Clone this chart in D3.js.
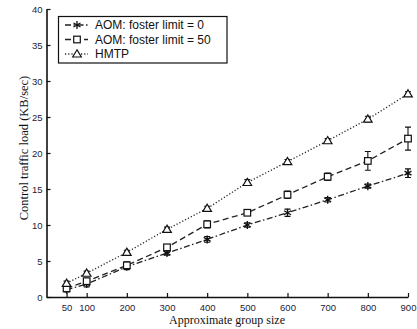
<!DOCTYPE html>
<html><head><meta charset="utf-8">
<script src="https://cdn.jsdelivr.net/npm/d3@7"></script>
<style>body{margin:0;background:#fff}svg{display:block}</style>
</head><body>
<svg id="c" width="417" height="329"></svg>
<script>
const sizes = [50, 100, 200, 300, 400, 500, 600, 700, 800, 900];
const aom0 = [1.0, 1.8, 4.2, 6.1, 8.0, 10.0, 11.7, 13.5, 15.4, 17.2];
const aom0Err = [0.3, 0.4, 0.4, 0.3, 0.4, 0.3, 0.5, 0.3, 0.3, 0.6];
const aom50 = [1.2, 2.2, 4.4, 6.9, 10.1, 11.7, 14.2, 16.7, 18.9, 22.0];
const aom50Err = [0.4, 0.4, 0.5, 0.3, 0.5, 0.3, 0.5, 0.5, 1.3, 1.6];
const hmtp = [1.9, 3.3, 6.2, 9.4, 12.3, 15.9, 18.8, 21.7, 24.7, 28.2];
const hmtpErr = [0.3, 0.3, 0.3, 0.3, 0.3, 0.4, 0.3, 0.3, 0.4, 0.3];
const xTicks = [50, 100, 200, 300, 400, 500, 600, 700, 800, 900];
const yTicks = [0, 5, 10, 15, 20, 25, 30, 35, 40];
const seriesNames = ["AOM: foster limit = 0", "AOM: foster limit = 50", "HMTP"];

const svg = d3.select("#c");
const x = d3.scaleLinear().domain([0, 900]).range([46.5, 408]);
const y = d3.scaleLinear().domain([0, 40]).range([297, 9]);

const series = [
  {name: seriesNames[0], vals: aom0, err: aom0Err, dash: "6,2.5,1.5,2.5", sym: "star"},
  {name: seriesNames[1], vals: aom50, err: aom50Err, dash: "6,3.5", sym: "square"},
  {name: seriesNames[2], vals: hmtp, err: hmtpErr, dash: "1.2,2", sym: "tri"}
];

function drawMarker(g, sym, cx, cy) {
  if (sym === "star") {
    g.append("path").attr("d", d3.symbol(d3.symbolAsterisk, 45)())
      .attr("transform", `translate(${cx},${cy})`)
      .attr("fill", "none").attr("stroke", "#111").attr("stroke-width", 1.3);
  } else if (sym === "square") {
    g.append("rect").attr("x", cx - 3.3).attr("y", cy - 3.3).attr("width", 6.6).attr("height", 6.6)
      .attr("fill", "#fff").attr("stroke", "#111").attr("stroke-width", 1.2);
  } else {
    g.append("path").attr("d", `M${cx},${cy - 4.2}L${cx + 4.3},${cy + 3}L${cx - 4.3},${cy + 3}Z`)
      .attr("fill", "#fff").attr("stroke", "#111").attr("stroke-width", 1.2);
  }
}

// axes
const xAxis = svg.append("g").attr("transform", "translate(0,297)")
  .call(d3.axisBottom(x).tickValues(xTicks).tickSizeInner(-4).tickSizeOuter(0).tickPadding(7));
const yAxis = svg.append("g").attr("transform", "translate(46.5,0)")
  .call(d3.axisLeft(y).tickValues(yTicks).tickSizeInner(-4).tickSizeOuter(0).tickPadding(4));
[xAxis, yAxis].forEach(a => {
  a.select(".domain").attr("stroke", "#111").attr("stroke-width", 1.6);
  a.selectAll(".tick line").attr("stroke", "#111").attr("stroke-width", 1.2);
  a.selectAll(".tick text").attr("fill", "#1c1c3a")
    .style("font-family", "'Liberation Sans', Arial, sans-serif").style("font-size", "9.5px");
});

// series
const plot = svg.append("g");
series.forEach(s => {
  const pts = sizes.map((d, i) => [x(d), y(s.vals[i])]);
  plot.append("path").attr("d", d3.line()(pts))
    .attr("fill", "none").attr("stroke", "#222").attr("stroke-width", 1.3)
    .attr("stroke-dasharray", s.dash);
});
series.forEach(s => {
  sizes.forEach((d, i) => {
    const cx = x(d), lo = y(s.vals[i] - s.err[i]), hi = y(s.vals[i] + s.err[i]);
    plot.append("path").attr("d", `M${cx},${lo}V${hi}M${cx - 3},${lo}H${cx + 3}M${cx - 3},${hi}H${cx + 3}`)
      .attr("stroke", "#111").attr("stroke-width", 1.1).attr("fill", "none");
  });
  sizes.forEach((d, i) => drawMarker(plot, s.sym, x(d), y(s.vals[i])));
});

// legend
const lg = svg.append("g");
lg.append("rect").attr("x", 58.5).attr("y", 16.5).attr("width", 168.5).attr("height", 46.5)
  .attr("fill", "#fff").attr("stroke", "#111").attr("stroke-width", 1.2);
series.forEach((s, i) => {
  const ly = 25 + i * 14.5;
  lg.append("line").attr("x1", 65).attr("x2", 88).attr("y1", ly).attr("y2", ly)
    .attr("stroke", "#222").attr("stroke-width", 1.3).attr("stroke-dasharray", s.dash);
  drawMarker(lg, s.sym, 77, ly);
  lg.append("text").attr("x", 95).attr("y", ly + 4.3).text(s.name)
    .attr("fill", "#111").style("font-family", "'Liberation Sans', Arial, sans-serif").style("font-size", "12px");
});

// axis titles
svg.append("text").attr("x", 227).attr("y", 324).attr("text-anchor", "middle")
  .text("Approximate group size")
  .style("font-family", "'Liberation Serif', 'Times New Roman', serif").style("font-size", "12px").attr("fill", "#111");
svg.append("text").attr("transform", "translate(28,148) rotate(-90)").attr("text-anchor", "middle")
  .text("Control traffic load (KB/sec)")
  .style("font-family", "'Liberation Serif', 'Times New Roman', serif").style("font-size", "12.5px").attr("fill", "#111");
</script>
</body></html>
